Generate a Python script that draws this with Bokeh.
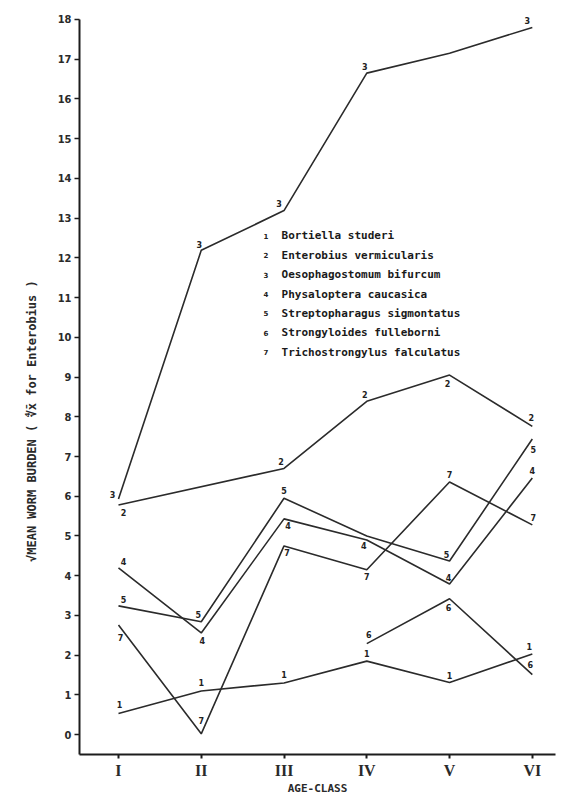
from bokeh.plotting import figure
from bokeh.models import ColumnDataSource, FixedTicker, Range1d
from bokeh.core.properties import value
from bokeh.embed import file_html
from bokeh.resources import INLINE

# ---- data ----
age_class = [1, 2, 3, 4, 5, 6]
roman = ["I", "II", "III", "IV", "V", "VI"]

species = [
    "Bortiella studeri",
    "Enterobius vermicularis",
    "Oesophagostomum bifurcum",
    "Physaloptera caucasica",
    "Streptopharagus sigmontatus",
    "Strongyloides fulleborni",
    "Trichostrongylus falculatus",
]

s1 = [0.53, 1.10, 1.30, 1.85, 1.31, 2.03]
s2 = [5.78, None, 6.70, 8.39, 9.05, 7.76]
s3 = [5.93, 12.19, 13.19, 16.65, 17.15, 17.80]
s4 = [4.20, 2.56, 5.43, 4.90, 3.79, 6.46]
s5 = [3.24, 2.84, 5.95, 5.00, 4.37, 7.44]
s6 = [None, None, None, 2.29, 3.42, 1.51]
s7 = [2.76, 0.02, 4.75, 4.15, 6.36, 5.28]
series = [s1, s2, s3, s4, s5, s6, s7]

# label placement (screen px offsets from each point; None = no label)
offsets = [
    [(1, -9), (0, -8), (0, -8), (0, -8), (0, -7), (-3, -7)],
    [(5, 8), None, (-3, -7), (-2, -7), (-2, 8), (-1, -9)],
    [(-6, -5), (-2, -6), (-5, -7), (-2, -7), None, (-5, -7)],
    [(5, -6), (1, 8), (4, 7), (-3, 6), (-1, -7), (0, -7)],
    [(5, -6), (-3, -7), (0, -8), None, (-3, -7), (1, 10)],
    [None, None, None, (2, -9), (-1, 9), (-2, -10)],
    [(2, 13), (0, -13), (3, 7), (0, 7), (0, -7), (1, -7)],
]

LINE = "#2b2b2b"
AX = "#1c1c1c"

p = figure(width=563, height=797, output_backend="svg", toolbar_location=None,
           x_range=Range1d(0.529, 6.28), y_range=Range1d(-0.5, 18.1),
           min_border_left=79, min_border_right=8, min_border_top=15,
           min_border_bottom=43, background_fill_color="white")
p.outline_line_color = None
p.grid.visible = False

for i, vals in enumerate(series):
    xs = [x for x, v in zip(age_class, vals) if v is not None]
    ys = [v for v in vals if v is not None]
    p.line(xs, ys, line_color=LINE, line_width=1.6)
    lx, ly, dx, dy, tx = [], [], [], [], []
    for x, v, off in zip(age_class, vals, offsets[i]):
        if v is None or off is None:
            continue
        lx.append(x); ly.append(v); dx.append(off[0]); dy.append(off[1]); tx.append(str(i + 1))
    src = ColumnDataSource(dict(x=lx, y=ly, dx=dx, dy=dy, t=tx))
    p.text(x="x", y="y", text="t", x_offset="dx", y_offset="dy", source=src,
           text_font=value("DejaVu Sans"), text_font_style="bold", text_font_size="8px",
           text_color="#222222", text_align="center", text_baseline="middle")

# legend block
leg_y0 = 12.56
leg_step = 0.49
leg_src = ColumnDataSource(dict(
    xn=[2.78] * len(species),
    xs=[2.97] * len(species),
    y=[leg_y0 - k * leg_step for k in range(len(species))],
    n=[str(k + 1) for k in range(len(species))],
    s=species,
))
p.text(x="xn", y="y", text="n", source=leg_src, text_font=value("DejaVu Sans"),
       text_font_style="bold", text_font_size="7px", text_color="#222222",
       text_align="center", text_baseline="middle")
p.text(x="xs", y="y", text="s", source=leg_src, text_font=value("DejaVu Sans Mono"),
       text_font_style="bold", text_font_size="11px", text_color="#1a1a1a",
       text_align="left", text_baseline="middle")

# axes
xa = p.xaxis[0]
xa.ticker = FixedTicker(ticks=age_class)
xa.major_label_overrides = {x: r for x, r in zip(age_class, roman)}
xa.major_label_text_font = "Liberation Serif"
xa.major_label_text_font_style = "bold"
xa.major_label_text_font_size = "16px"
xa.major_label_text_color = "#2a2a2a"
xa.major_label_standoff = 3
xa.axis_line_width = 2
xa.axis_line_color = AX
xa.major_tick_out = 4
xa.major_tick_in = 0
xa.major_tick_line_width = 2
xa.major_tick_line_color = AX
xa.minor_tick_line_color = None
xa.axis_label = "AGE-CLASS"
xa.axis_label_text_font = "DejaVu Sans Mono"
xa.axis_label_text_font_style = "bold"
xa.axis_label_text_font_size = "11px"
xa.axis_label_text_color = "#2a2a2a"
xa.axis_label_standoff = 0

ya = p.yaxis[0]
ya.ticker = FixedTicker(ticks=list(range(0, 19)))
ya.bounds = (-0.5, 18)
ya.major_label_text_font = "DejaVu Sans Condensed"
ya.major_label_text_font_style = "bold"
ya.major_label_text_font_size = "11px"
ya.major_label_text_color = "#2a2a2a"
ya.major_label_standoff = 3
ya.axis_line_width = 2
ya.axis_line_color = AX
ya.major_tick_out = 5
ya.major_tick_in = 0
ya.major_tick_line_width = 1.5
ya.major_tick_line_color = AX
ya.minor_tick_line_color = None
ya.axis_label = "\u221aMEAN  WORM  BURDEN   (  \u221cx\u0304    for   Enterobius )"
ya.axis_label_text_font = "DejaVu Sans Mono"
ya.axis_label_text_font_style = "bold"
ya.axis_label_text_font_size = "12px"
ya.axis_label_text_color = "#2a2a2a"
ya.axis_label_standoff = 16

open("out.html", "w").write(file_html(p, INLINE))
